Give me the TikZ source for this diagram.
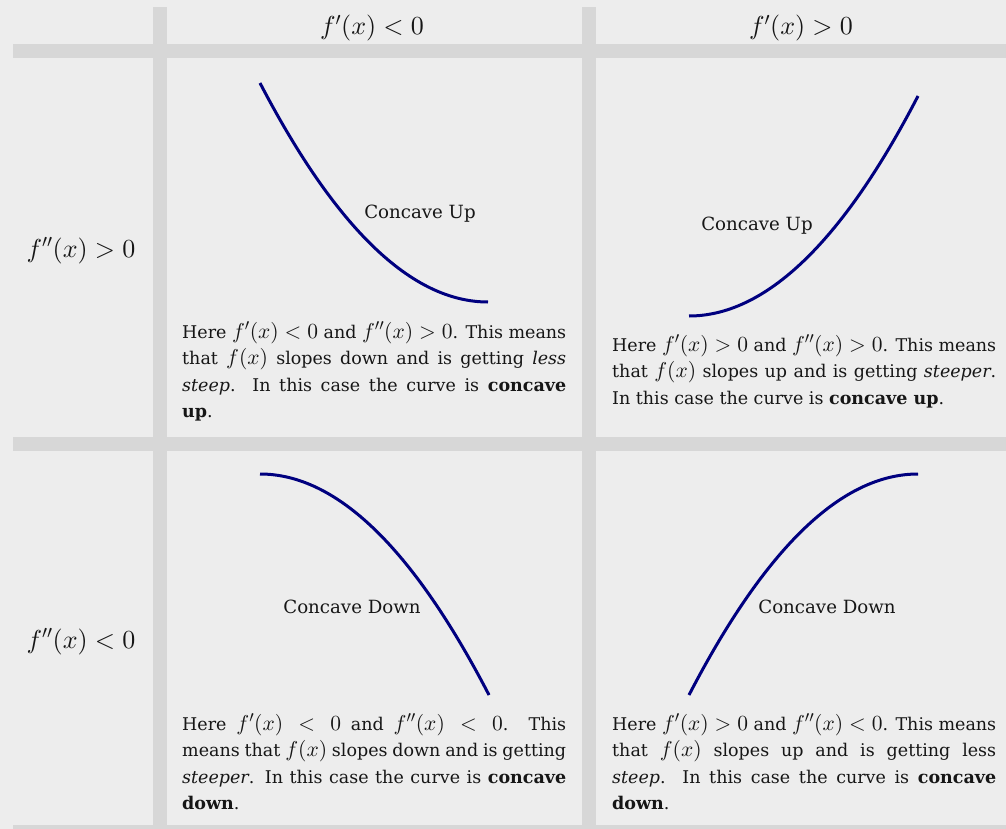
\documentclass[tikz,border=0pt]{standalone}
\usepackage[no-math]{fontspec}
\setmainfont{DejaVu Serif}
\DeclareFontShape{OML}{cmm}{m}{it}{<->cmmi10}{\skewchar\font=127 }
\DeclareFontShape{OMS}{cmsy}{m}{n}{<->cmsy10}{\skewchar\font=48 }
\DeclareFontShape{OT1}{cmr}{m}{n}{<->cmr10}{}
\DeclareMathSizes{17.5}{21.5}{16}{12}
\definecolor{bgc}{HTML}{EDEDED}
\definecolor{rulec}{HTML}{D7D7D7}
\definecolor{curvec}{HTML}{00007F}
\definecolor{txt}{HTML}{161616}
\newcommand\jline[1]{\makebox[384pt][s]{#1}}
\tikzset{
  hdr/.style={font=\fontsize{26}{30}\selectfont, inner sep=0pt, anchor=base, text=txt},
  bodytext/.style={font=\fontsize{17.5}{26.5}\selectfont, text width=384pt, align=justify, inner sep=0pt, anchor=base west, text=txt},
  lbl/.style={font=\fontsize{18.2}{20}\selectfont, inner sep=0pt, text=txt},
  curvepath/.style={draw=curvec, line width=3pt},
  rulebar/.style={fill=rulec}
}
\begin{document}
\begin{tikzpicture}[x=1pt,y=-1pt]
\useasboundingbox (0,0) rectangle (1006,829);
\fill[bgc] (0,0) rectangle (1006,829);
% grid bars
\fill[rulebar] (13,44) rectangle (1006,58);
\fill[rulebar] (13,437) rectangle (1006,451);
\fill[rulebar] (13,825) rectangle (1006,829);
\fill[rulebar] (153,7) rectangle (167,829);
\fill[rulebar] (582,7) rectangle (596,829);
% headers
\node[hdr] (h1) at (372,34.5) {$f'(x) < 0$};
\node[hdr] (h2) at (801,34.5) {$f'(x) > 0$};
\node[hdr] (r1) at (81,257) {$f''(x) > 0$};
\node[hdr] (r2) at (81,648) {$f''(x) < 0$};
% curves
\draw[curvepath] (260,83) .. controls (336,229) and (412,302) .. (488,302);
\draw[curvepath] (689,316) .. controls (765,316) and (842,243) .. (918,96);
\draw[curvepath] (260,474) .. controls (336.3,474) and (412.7,547.7) .. (489,695);
\draw[curvepath] (689,695) .. controls (765.3,547.7) and (841.7,474) .. (918,474);
% curve labels
\node[lbl] (l1) at (420,214) {Concave Up};
\node[lbl] (l2) at (757,226) {Concave Up};
\node[lbl] (l3) at (352,607) {Concave Down};
\node[lbl] (l4) at (827,607) {Concave Down};
% body texts
\node[bodytext] (t1) at (182,338) {%
\jline{Here $f'(x) < 0$ and $f''(x) > 0$. This means}\\
\jline{that $f(x)$ slopes down and is getting \textit{less}}\\
\jline{\textit{steep}. In this case the curve is \textbf{concave}}\\
\textbf{up}.};
\node[bodytext] (t2) at (612,351) {%
\jline{Here $f'(x) > 0$ and $f''(x) > 0$. This means}\\
\jline{that $f(x)$ slopes up and is getting \textit{steeper}.}\\
In this case the curve is \textbf{concave up}.};
\node[bodytext] (t3) at (182,730) {%
\jline{Here $f'(x) < 0$ and $f''(x) < 0$. This}\\
\jline{means that $f(x)$ slopes down and is getting}\\
\jline{\textit{steeper}. In this case the curve is \textbf{concave}}\\
\textbf{down}.};
\node[bodytext] (t4) at (612,730) {%
\jline{Here $f'(x) > 0$ and $f''(x) < 0$. This means}\\
\jline{that $f(x)$ slopes up and is getting less}\\
\jline{\textit{steep}. In this case the curve is \textbf{concave}}\\
\textbf{down}.};
\end{tikzpicture}
\end{document}
